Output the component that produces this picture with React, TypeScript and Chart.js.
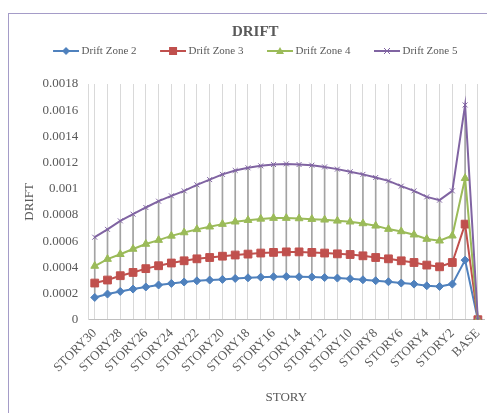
import React, { useEffect, useRef } from 'react';
import { Chart, registerables } from 'chart.js';

Chart.register(...registerables);

const categories = [
  'STORY30', 'STORY29', 'STORY28', 'STORY27', 'STORY26', 'STORY25', 'STORY24', 'STORY23',
  'STORY22', 'STORY21', 'STORY20', 'STORY19', 'STORY18', 'STORY17', 'STORY16', 'STORY15',
  'STORY14', 'STORY13', 'STORY12', 'STORY11', 'STORY10', 'STORY9', 'STORY8', 'STORY7',
  'STORY6', 'STORY5', 'STORY4', 'STORY3', 'STORY2', 'STORY1', 'BASE',
];

const zone2 = [
  0.00017, 0.000196, 0.000216, 0.000234, 0.00025, 0.000265, 0.000277, 0.000288,
  0.000297, 0.000303, 0.000308, 0.000315, 0.00032, 0.000325, 0.000328, 0.00033,
  0.000328, 0.000326, 0.000322, 0.000318, 0.000313, 0.000305, 0.000298, 0.00029,
  0.00028, 0.000272, 0.000259, 0.000254, 0.000272, 0.000455, 0,
];

const zone3 = [
  0.00028, 0.000303, 0.000336, 0.000361, 0.00039, 0.000412, 0.000433, 0.00045,
  0.000465, 0.000475, 0.000485, 0.000494, 0.000501, 0.000509, 0.000514, 0.000518,
  0.000518, 0.000514, 0.000509, 0.000503, 0.000498, 0.000488, 0.000475, 0.000465,
  0.00045, 0.000437, 0.000417, 0.000404, 0.000437, 0.00073, 0,
];

const zone4 = [
  0.00041, 0.000463, 0.0005, 0.00054, 0.000578, 0.000608, 0.00064, 0.000666,
  0.00069, 0.00071, 0.00073, 0.000748, 0.00076, 0.00077, 0.000776, 0.000776,
  0.000773, 0.000768, 0.000763, 0.000755, 0.000748, 0.000735, 0.000717, 0.000692,
  0.000674, 0.000649, 0.000616, 0.000603, 0.000641, 0.00108, 0,
];

const zone5 = [
  0.00063, 0.00069, 0.000755, 0.000806, 0.000857, 0.000905, 0.000946, 0.000984,
  0.00103, 0.00107, 0.00111, 0.00114, 0.00116, 0.001175, 0.001185, 0.00119,
  0.001185, 0.00118, 0.001167, 0.00115, 0.00113, 0.00111, 0.001086, 0.00106,
  0.00102, 0.000984, 0.000938, 0.000913, 0.000984, 0.00164, 0,
];

const seriesNames = ['Drift Zone 2', 'Drift Zone 3', 'Drift Zone 4', 'Drift Zone 5'];
const yMin = 0;
const yMax = 0.0018;
const yStep = 0.0002;

const COLORS = ['#4F81BD', '#C0504D', '#9BBB59', '#8064A2'];
const FONT = "'Liberation Serif', 'Times New Roman', serif";
const TEXT = '#595959';

function drawMarker(ctx: CanvasRenderingContext2D, kind: string, cx: number, cy: number, color: string) {
  ctx.fillStyle = color;
  ctx.strokeStyle = color;
  ctx.lineWidth = 1;
  ctx.beginPath();
  if (kind === 'rectRot') {
    ctx.moveTo(cx, cy - 4);
    ctx.lineTo(cx + 4, cy);
    ctx.lineTo(cx, cy + 4);
    ctx.lineTo(cx - 4, cy);
    ctx.closePath();
    ctx.fill();
  } else if (kind === 'rect') {
    ctx.rect(cx - 4, cy - 4, 8, 8);
    ctx.fill();
  } else if (kind === 'triangle') {
    ctx.moveTo(cx, cy - 4);
    ctx.lineTo(cx + 4, cy + 3);
    ctx.lineTo(cx - 4, cy + 3);
    ctx.closePath();
    ctx.fill();
  } else {
    ctx.moveTo(cx - 3, cy - 3);
    ctx.lineTo(cx + 3, cy + 3);
    ctx.moveTo(cx + 3, cy - 3);
    ctx.lineTo(cx - 3, cy + 3);
    ctx.stroke();
  }
}

function makeIcon(color: string, kind: string) {
  const c = document.createElement('canvas');
  c.width = 29;
  c.height = 12;
  const ctx = c.getContext('2d')!;
  ctx.strokeStyle = color;
  ctx.lineWidth = 2;
  ctx.beginPath();
  ctx.moveTo(3, 6);
  ctx.lineTo(29, 6);
  ctx.stroke();
  drawMarker(ctx, kind, 16, 6, color);
  return c;
}

const legendSpacer = {
  id: 'legendSpacer',
  beforeLayout(chart: any) {
    const lg = chart.legend;
    if (lg && !lg._spacerPatched) {
      const fit = lg.fit;
      lg.fit = function () {
        fit.call(this);
        this.height += 17.5;
      };
      lg._spacerPatched = true;
    }
  },
};

export default function App() {
  const ref = useRef<HTMLCanvasElement | null>(null);

  useEffect(() => {
    document.documentElement.style.overflow = 'hidden';
    const canvas = ref.current;
    if (!canvas) return;
    const series = [zone2, zone3, zone4, zone5];
    const styles = ['rectRot', 'rect', 'triangle', 'crossRot'];
    const radii = [4, 5.5, 4.5, 3.5];
    const icons = COLORS.map((c, i) => makeIcon(c, styles[i]));
    const highLow = categories.map((_, i) => {
      const vals = series.map((s) => s[i]);
      return [Math.min(...vals), Math.max(...vals)];
    });

    const chart = new Chart(canvas, {
      type: 'line',
      data: {
        labels: categories,
        datasets: [
          ...series.map((s, i) => ({
            type: 'line' as const,
            label: seriesNames[i],
            data: s,
            borderColor: COLORS[i],
            backgroundColor: COLORS[i],
            pointBackgroundColor: COLORS[i],
            pointBorderColor: COLORS[i],
            pointStyle: styles[i] as any,
            pointRadius: radii[i],
            pointBorderWidth: 1,
            borderWidth: 2,
            tension: 0,
            order: 4 - i,
          })),
          {
            type: 'bar' as const,
            label: 'hl',
            data: highLow as any,
            backgroundColor: '#a3a3a3',
            borderWidth: 0,
            barThickness: 1,
            order: 10,
          },
        ],
      },
      options: {
        responsive: false,
        animation: false,
        layout: { padding: { left: 9, right: 2.5, top: 0, bottom: 6 } },
        plugins: {
          tooltip: { enabled: false },
          title: {
            display: true,
            text: 'DRIFT',
            color: TEXT,
            font: { family: FONT, size: 15, weight: 'bold' },
            padding: { top: 9.5, bottom: -19.5 },
          },
          legend: {
            display: true,
            position: 'top',
            labels: {
              usePointStyle: true,
              pointStyleWidth: 23,
              padding: 23.5,
              color: TEXT,
              font: { family: FONT, size: 11 },
              filter: (item: any) => item.datasetIndex < 4,
              sort: (a: any, b: any) => a.datasetIndex - b.datasetIndex,
              generateLabels: (ch: any) => {
                const items = Chart.defaults.plugins.legend.labels.generateLabels(ch);
                return items.map((it: any) => ({
                  ...it,
                  pointStyle: it.datasetIndex < 4 ? icons[it.datasetIndex] : it.pointStyle,
                }));
              },
            },
          },
        },
        scales: {
          x: {
            offset: true,
            grid: { display: true, color: '#d9d9d9', lineWidth: 1, offset: false, drawTicks: false },
            border: { display: true, color: '#bfbfbf' },
            ticks: {
              autoSkip: false,
              maxRotation: 45,
              minRotation: 45,
              padding: 6,
              color: TEXT,
              font: { family: FONT, size: 13 },
              callback: function (this: any, value: any, index: number) {
                return index % 2 === 0 ? this.getLabelForValue(value) : '';
              },
            },
            title: {
              display: true,
              text: 'STORY',
              color: TEXT,
              font: { family: FONT, size: 13 },
              padding: { top: 8, bottom: 2 },
            },
          },
          y: {
            min: yMin,
            max: yMax,
            grid: { display: false, drawTicks: false },
            border: { display: true, color: '#d9d9d9' },
            ticks: {
              stepSize: yStep,
              padding: 10,
              color: TEXT,
              font: { family: FONT, size: 13 },
              callback: (v: any) => String(parseFloat(Number(v).toFixed(4))),
            },
            title: {
              display: true,
              text: 'DRIFT',
              color: TEXT,
              font: { family: FONT, size: 13 },
              padding: { top: 4, bottom: -5 },
            },
          },
        },
      },
      plugins: [legendSpacer],
    });

    return () => chart.destroy();
  }, []);

  return (
    <div style={{ paddingTop: 5 }}>
      <div
        style={{
          width: 486,
          height: 399,
          borderTop: '1px solid #a59cc8',
          borderLeft: '1px solid #a59cc8',
          background: '#ffffff',
        }}
      >
        <canvas ref={ref} width={486} height={399} style={{ display: 'block' }} />
      </div>
    </div>
  );
}
